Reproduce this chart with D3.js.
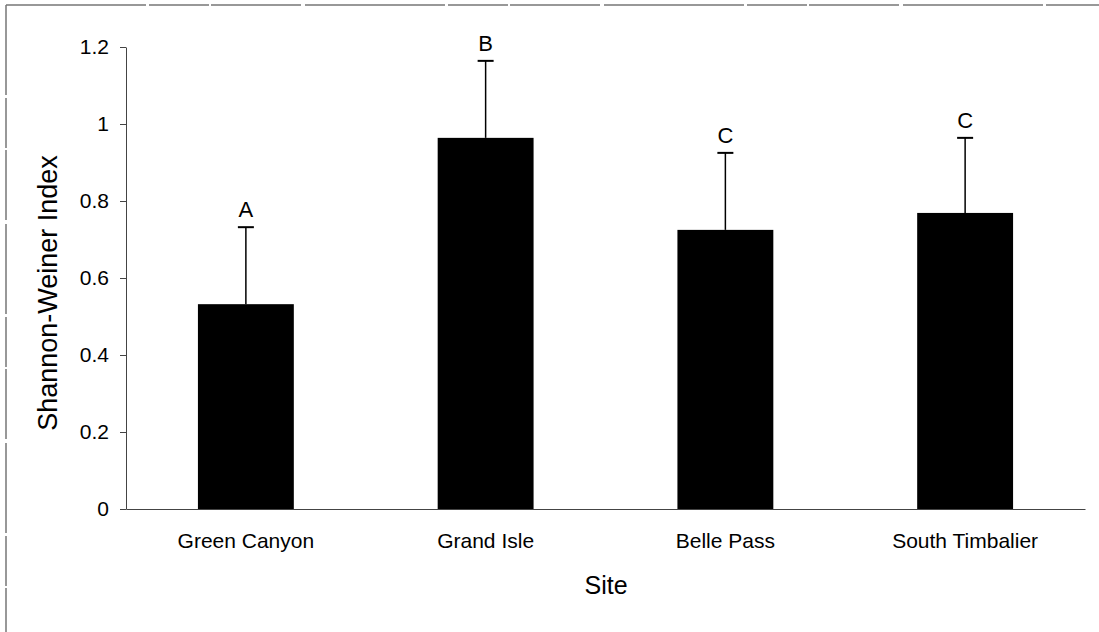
<!DOCTYPE html>
<html>
<head>
<meta charset="utf-8">
<script src="https://cdn.jsdelivr.net/npm/d3@7"></script>
<style>
  html, body { margin: 0; padding: 0; background: #fff; }
  svg { display: block; font-family: "Liberation Sans", Arial, sans-serif; }
</style>
</head>
<body>
<div id="chart"></div>
<script>
var sites = ['Green Canyon', 'Grand Isle', 'Belle Pass', 'South Timbalier'];
var means = [0.532, 0.964, 0.725, 0.769];
var errors = [0.2, 0.2, 0.2, 0.195];
var letters = ['A', 'B', 'C', 'C'];
var yTicks = [0, 0.2, 0.4, 0.6, 0.8, 1, 1.2];

var width = 1099, height = 632;

var svg = d3.select('#chart').append('svg')
    .attr('width', width)
    .attr('height', height);

// scanned page frame (top and left edges)
svg.append('line')
    .attr('x1', 6).attr('y1', 5).attr('x2', width).attr('y2', 5)
    .style('stroke', '#777').style('stroke-width', 1.5)
    .style('stroke-dasharray', '140,3,60,2,90,4');
svg.append('line')
    .attr('x1', 6).attr('y1', 5).attr('x2', 6).attr('y2', height)
    .style('stroke', '#777').style('stroke-width', 1.5)
    .style('stroke-dasharray', '90,3,50,2,70,4');

var x = d3.scaleBand()
    .domain(sites)
    .range([126, 1085])
    .paddingInner(0.6)
    .paddingOuter(0.3);

var y = d3.scaleLinear()
    .domain([0, 1.2])
    .range([509, 47]);

var data = sites.map(function (s, i) {
    return { site: s, mean: means[i], err: errors[i], letter: letters[i] };
});

// y axis
var yAxis = svg.append('g')
    .attr('transform', 'translate(126,0)')
    .call(d3.axisLeft(y)
        .tickValues(yTicks)
        .tickFormat(function (d) { return +d.toFixed(1); })
        .tickSize(6)
        .tickSizeOuter(0)
        .tickPadding(11));
yAxis.selectAll('text').style('font-size', '21px').style('fill', '#000')
    .style('font-family', '"Liberation Sans", Arial, sans-serif');
yAxis.selectAll('line, path').style('stroke', '#444');

// x axis
var xAxis = svg.append('g')
    .attr('transform', 'translate(0,509)')
    .call(d3.axisBottom(x).tickSize(0).tickSizeOuter(0).tickPadding(24));
xAxis.selectAll('text').style('font-size', '21px').style('fill', '#000')
    .style('font-family', '"Liberation Sans", Arial, sans-serif');
xAxis.select('path').style('stroke', '#444');

// bars
svg.selectAll('.bar')
    .data(data)
    .enter().append('rect')
        .attr('class', 'bar')
        .attr('x', function (d) { return x(d.site); })
        .attr('y', function (d) { return y(d.mean); })
        .attr('width', x.bandwidth())
        .attr('height', function (d) { return y(0) - y(d.mean); })
        .style('fill', '#000');

// error bars (upper only)
var eb = svg.selectAll('.err')
    .data(data)
    .enter().append('g')
        .attr('class', 'err');
eb.append('line')
    .attr('x1', function (d) { return x(d.site) + x.bandwidth() / 2; })
    .attr('x2', function (d) { return x(d.site) + x.bandwidth() / 2; })
    .attr('y1', function (d) { return y(d.mean); })
    .attr('y2', function (d) { return y(d.mean + d.err); })
    .style('stroke', '#000').style('stroke-width', 1.5);
eb.append('line')
    .attr('x1', function (d) { return x(d.site) + x.bandwidth() / 2 - 8; })
    .attr('x2', function (d) { return x(d.site) + x.bandwidth() / 2 + 8; })
    .attr('y1', function (d) { return y(d.mean + d.err); })
    .attr('y2', function (d) { return y(d.mean + d.err); })
    .style('stroke', '#000').style('stroke-width', 2);

// significance letters
svg.selectAll('.letter')
    .data(data)
    .enter().append('text')
        .attr('class', 'letter')
        .attr('x', function (d) { return x(d.site) + x.bandwidth() / 2; })
        .attr('y', function (d) { return y(d.mean + d.err) - 10; })
        .attr('text-anchor', 'middle')
        .style('font-size', '22px')
        .text(function (d) { return d.letter; });

// axis titles
svg.append('text')
    .attr('transform', 'translate(57,293) rotate(-90)')
    .attr('text-anchor', 'middle')
    .style('font-size', '27px')
    .text('Shannon-Weiner Index');

svg.append('text')
    .attr('x', 606)
    .attr('y', 594)
    .attr('text-anchor', 'middle')
    .style('font-size', '25px')
    .text('Site');
</script>
</body>
</html>
